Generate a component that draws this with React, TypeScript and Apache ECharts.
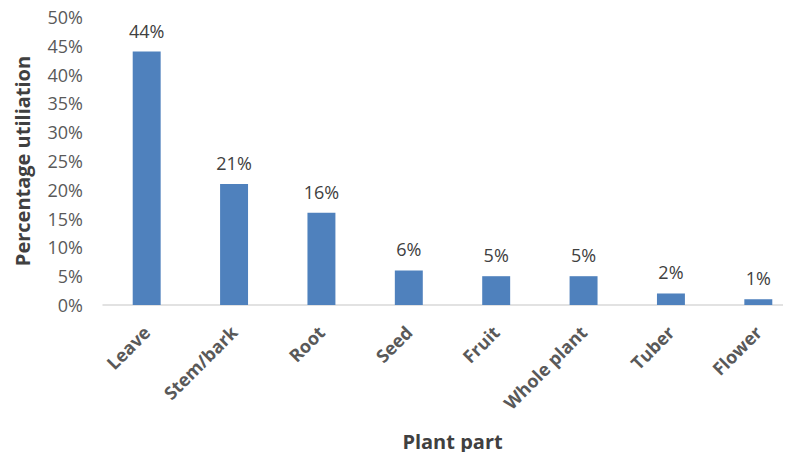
import React, { useEffect, useRef } from "react";
import * as echarts from "echarts";

const categories = ["Leave", "Stem/bark", "Root", "Seed", "Fruit", "Whole plant", "Tuber", "Flower"];
const values = [44, 21, 16, 6, 5, 5, 2, 1];
const yTicks = [0, 5, 10, 15, 20, 25, 30, 35, 40, 45, 50];

export default function App() {
  const ref = useRef<HTMLDivElement>(null);
  useEffect(() => {
    const chart = echarts.init(ref.current!, null, { renderer: "svg" });
    const font = "'Open Sans', 'Liberation Sans', sans-serif";
    chart.setOption({
      animation: false,
      grid: { left: 103, right: 8, top: 17, bottom: 155 },
      xAxis: {
        type: "category",
        data: categories,
        name: "Plant part",
        nameLocation: "middle",
        nameGap: 126,
        nameTextStyle: { fontFamily: font, fontSize: 20, fontWeight: "bold", color: "#404040" },
        axisLine: { lineStyle: { color: "#d9d9d9", width: 1.5 } },
        axisTick: { show: false },
        axisLabel: {
          rotate: 45,
          interval: 0,
          margin: 24,
          fontFamily: font,
          fontSize: 18,
          fontWeight: "bold",
          color: "#595959",
        },
      },
      yAxis: {
        type: "value",
        min: 0,
        max: 50,
        interval: 5,
        name: "Percentage utiliation",
        nameLocation: "middle",
        nameGap: 71,
        nameTextStyle: { fontFamily: font, fontSize: 20, fontWeight: "bold", color: "#404040" },
        splitLine: { show: false },
        axisLine: { show: false },
        axisTick: { show: false },
        axisLabel: {
          formatter: (v: number) => (yTicks.includes(v) ? v + "%" : ""),
          fontFamily: font,
          fontSize: 18,
          color: "#595959",
          margin: 20,
        },
      },
      series: [
        {
          type: "bar",
          data: values,
          barWidth: "32%",
          itemStyle: { color: "#4f81bd" },
          label: {
            show: true,
            position: "top",
            distance: 12,
            formatter: "{c}%",
            fontFamily: font,
            fontSize: 18,
            color: "#404040",
          },
        },
      ],
    });
    return () => chart.dispose();
  }, []);
  return (
    <div style={{ width: 791, height: 460, margin: -8, overflow: "hidden" }}>
      <div ref={ref} style={{ width: 810, height: 460 }} />
    </div>
  );
}
